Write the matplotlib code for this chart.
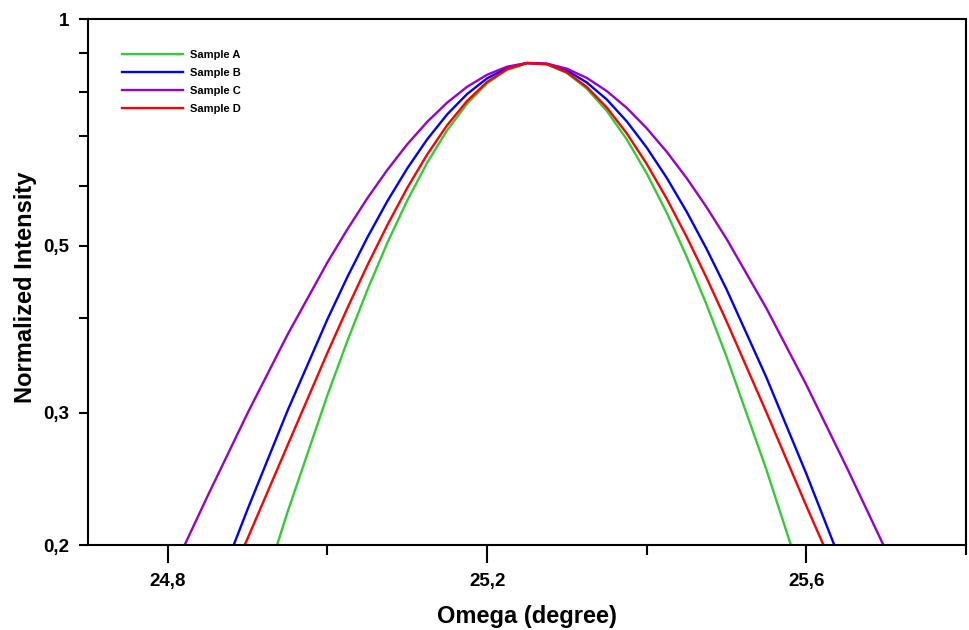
import matplotlib.pyplot as plt
from matplotlib.ticker import FixedLocator, FixedFormatter, NullFormatter

omega = [24.80, 24.85, 24.90, 24.95, 25.00, 25.025, 25.05, 25.075, 25.10, 25.125,
         25.15, 25.175, 25.20, 25.225, 25.25, 25.275, 25.30, 25.325, 25.35, 25.375,
         25.40, 25.425, 25.45, 25.475, 25.50, 25.55, 25.60, 25.65, 25.70, 25.75]

sample_a = [0.0682, 0.1015, 0.1509, 0.2212, 0.3164, 0.3736, 0.4365, 0.5040, 0.5741, 0.6443,
            0.7115, 0.7719, 0.8215, 0.8566, 0.8737, 0.8706, 0.8478, 0.8080, 0.7549, 0.6919,
            0.6233, 0.5529, 0.4834, 0.4172, 0.3558, 0.2517, 0.1728, 0.1167, 0.0783, 0.0529]
sample_b = [0.1184, 0.1630, 0.2232, 0.3017, 0.3991, 0.4543, 0.5125, 0.5727, 0.6332, 0.6922,
            0.7470, 0.7951, 0.8340, 0.8609, 0.8740, 0.8717, 0.8542, 0.8234, 0.7816, 0.7311,
            0.6747, 0.6152, 0.5546, 0.4948, 0.4373, 0.3338, 0.2486, 0.1821, 0.1324, 0.0963]
sample_c = [0.1792, 0.2325, 0.2995, 0.3807, 0.4750, 0.5256, 0.5779, 0.6302, 0.6817, 0.7301,
            0.7744, 0.8128, 0.8432, 0.8642, 0.8743, 0.8724, 0.8590, 0.8350, 0.8021, 0.7618,
            0.7158, 0.6662, 0.6146, 0.5622, 0.5103, 0.4125, 0.3264, 0.2543, 0.1964, 0.1512]
sample_d = [0.1220, 0.1556, 0.2041, 0.2713, 0.3602, 0.4130, 0.4707, 0.5323, 0.5966, 0.6609,
            0.7227, 0.7785, 0.8248, 0.8576, 0.8738, 0.8709, 0.8494, 0.8121, 0.7627, 0.7047,
            0.6417, 0.5772, 0.5135, 0.4529, 0.3965, 0.3000, 0.2253, 0.1706, 0.1322, 0.1063]

labels = ["Sample A", "Sample B", "Sample C", "Sample D"]
colors = ["#33cc33", "#0000ff", "#9900cc", "#ff0000"]

y_major = [0.2, 0.3, 0.5, 1.0]
y_major_lbl = ["0,2", "0,3", "0,5", "1"]
y_minor = [0.4, 0.6, 0.7, 0.8, 0.9]
x_major = [24.8, 25.2, 25.6]
x_major_lbl = ["24,8", "25,2", "25,6"]
x_minor = [25.0, 25.4, 25.8]

plt.rcParams['font.family'] = ['Liberation Sans', 'DejaVu Sans']
plt.rcParams['font.weight'] = 'bold'

fig = plt.figure(figsize=(9.7, 6.3), dpi=100)
ax = fig.add_axes([0.0907, 0.1349, 0.9052, 0.8349])

for ys, lab, col in zip([sample_a, sample_b, sample_c, sample_d], labels, colors):
    ax.plot(omega, ys, color=col, lw=1.7, label=lab)

ax.set_yscale('log')
ax.set_xlim(24.7, 25.8)
ax.set_ylim(0.2, 1.0)

ax.yaxis.set_major_locator(FixedLocator(y_major))
ax.yaxis.set_major_formatter(FixedFormatter(y_major_lbl))
ax.yaxis.set_minor_locator(FixedLocator(y_minor))
ax.yaxis.set_minor_formatter(NullFormatter())
ax.xaxis.set_major_locator(FixedLocator(x_major))
ax.xaxis.set_major_formatter(FixedFormatter(x_major_lbl))
ax.xaxis.set_minor_locator(FixedLocator(x_minor))

ax.tick_params(axis='y', which='both', direction='out', length=6.5, width=1.5,
               labelsize=13.5, pad=7)
ax.tick_params(axis='x', which='major', direction='out', length=13, width=1.5,
               labelsize=13.5, pad=7)
ax.tick_params(axis='x', which='minor', direction='out', length=7, width=1.5)
for s in ax.spines.values():
    s.set_linewidth(1.5)

ax.set_xlabel("Omega (degree)", fontsize=17, fontweight='bold')
ax.set_ylabel("Normalized Intensity", fontsize=17, fontweight='bold')
ax.xaxis.set_label_coords(0.5, -0.114)
ax.yaxis.set_label_coords(-0.058, 0.49)

leg = ax.legend(loc='upper left', bbox_to_anchor=(0.0387, 0.942), frameon=False,
                borderaxespad=0, borderpad=0, handlelength=5.5, handletextpad=0.65,
                labelspacing=0.72,
                prop={'family': ['Liberation Sans Narrow', 'Liberation Sans'],
                      'weight': 'bold', 'size': 8})

fig.savefig("out.png", dpi=100)
